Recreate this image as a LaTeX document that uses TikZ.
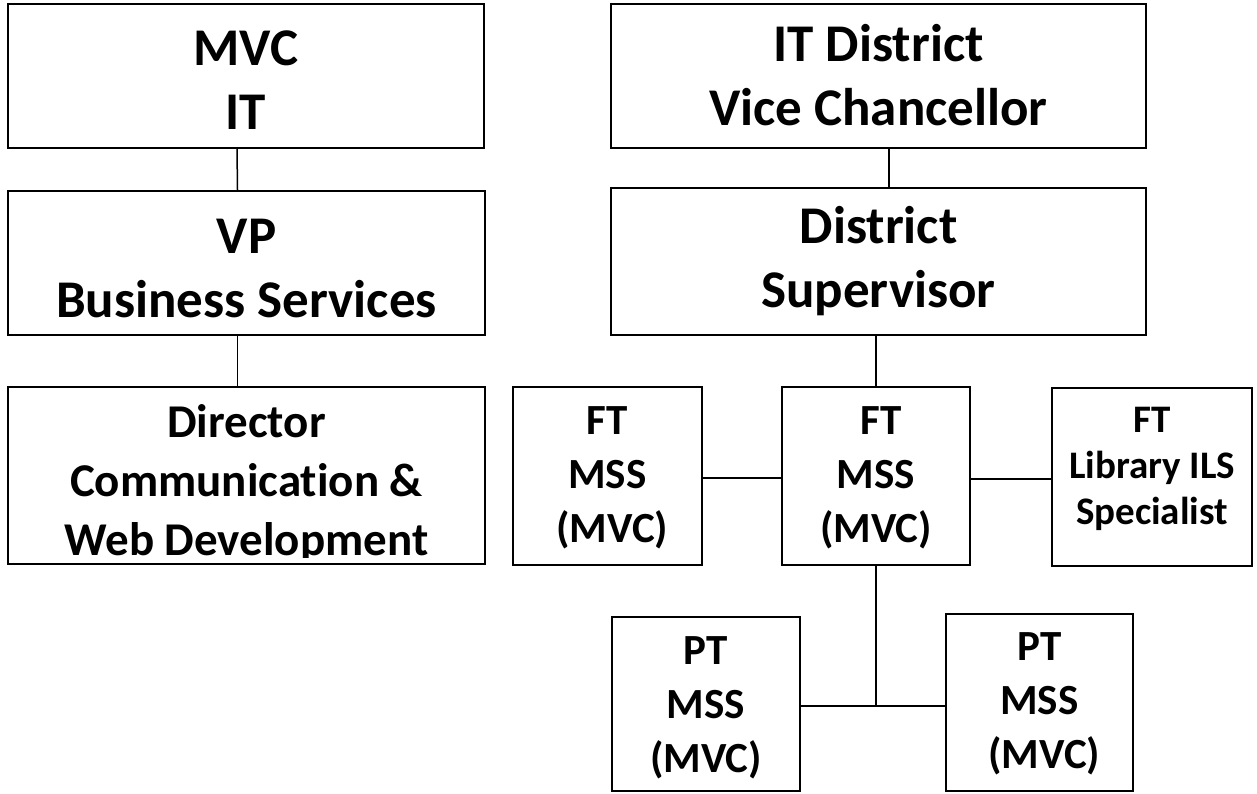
\documentclass[tikz,border=0pt]{standalone}
\usepackage{fontspec}
\setmainfont{Carlito}[Ligatures=NoCommon]
\begin{document}
\begin{tikzpicture}[x=1pt, y=-1pt,
  box/.style={draw, line width=2pt, inner sep=0pt},
  label/.style={inner sep=0pt, align=center, anchor=base},
  bigtext/.style={label, font=\fontsize{53}{64}\selectfont\bfseries},
  dirtext/.style={label, font=\fontsize{47}{59}\selectfont\bfseries},
  fttext/.style={label, font=\fontsize{43}{54}\selectfont\bfseries},
  libtext/.style={label, font=\fontsize{39}{46}\selectfont\bfseries},
  link/.style={line width=1.5pt}]
\useasboundingbox (0,0) rectangle (1257,794);

% left column (labels are placed by the baseline of their last line)
\node[box, minimum width=476pt, minimum height=144pt] (mvc) at (246,76) {};
\node[bigtext] (mvc-t) at (246,130) {MVC\\IT};
\node[box, minimum width=477pt, minimum height=144pt] (vp) at (246.5,263) {};
\node[bigtext] (vp-t) at (246.5,317) {VP\\Business Services};
\node[box, minimum width=477pt, minimum height=177pt] (dir) at (246.5,475.5) {};
\begin{scope}
  \clip (0,380) rectangle (500,557);
  \node[dirtext] (dir-t) at (246.5,555) {Director\\Communication \&\\Web Development};
\end{scope}

% right column, top
\node[box, minimum width=535pt, minimum height=144pt] (itd) at (878.5,76) {};
\node[bigtext] (itd-t) at (878.5,126) {IT District\\Vice Chancellor};
\node[box, minimum width=535pt, minimum height=147pt] (sup) at (878.5,261.5) {};
\node[bigtext] (sup-t) at (878.5,307) {District\\Supervisor};

% full-time row
\node[box, minimum width=189pt, minimum height=178pt] (ftl) at (607.5,476) {};
\node[fttext] (ftl-t) at (607.5,542) {FT\\MSS\\~(MVC)};
\node[box, minimum width=188pt, minimum height=178pt] (ftm) at (876,476) {};
\node[fttext] (ftm-t) at (876,542) {~FT\\MSS\\(MVC)};
\node[box, minimum width=200pt, minimum height=178pt] (lib) at (1152,477) {};
\node[libtext] (lib-t) at (1152,524) {FT\\Library ILS\\Specialist};

% part-time row
\node[box, minimum width=188pt, minimum height=174pt] (ptl) at (706,704) {};
\node[fttext] (ptl-t) at (706,772) {PT\\MSS\\(MVC)};
\node[box, minimum width=187pt, minimum height=177pt] (ptr) at (1039.5,702.5) {};
\node[fttext] (ptr-t) at (1039.5,768) {PT\\MSS\\~(MVC)};

\coordinate (j) at (876,706);

% connectors
\draw[link] ([xshift=-9pt]mvc.south) -- ([xshift=-9pt]vp.north);
\draw[link] ([xshift=-9pt]vp.south) -- ([xshift=-9pt]dir.north);
\draw[link] ([xshift=10.5pt]itd.south) -- ([xshift=10.5pt]sup.north);
\draw[link] (ftm.north) -- (ftm.north |- sup.south);
\draw[link] ([yshift=-2pt]ftl.east) -- ([yshift=-2pt]ftl.east -| ftm.west);
\draw[link] ([yshift=-3pt]ftm.east) -- ([yshift=-3pt]ftm.east -| lib.west);
\draw[link] (ftm.south) -- (j);
\draw[link] (ptl.east |- j) -- (ptr.west |- j);
\end{tikzpicture}
\end{document}
